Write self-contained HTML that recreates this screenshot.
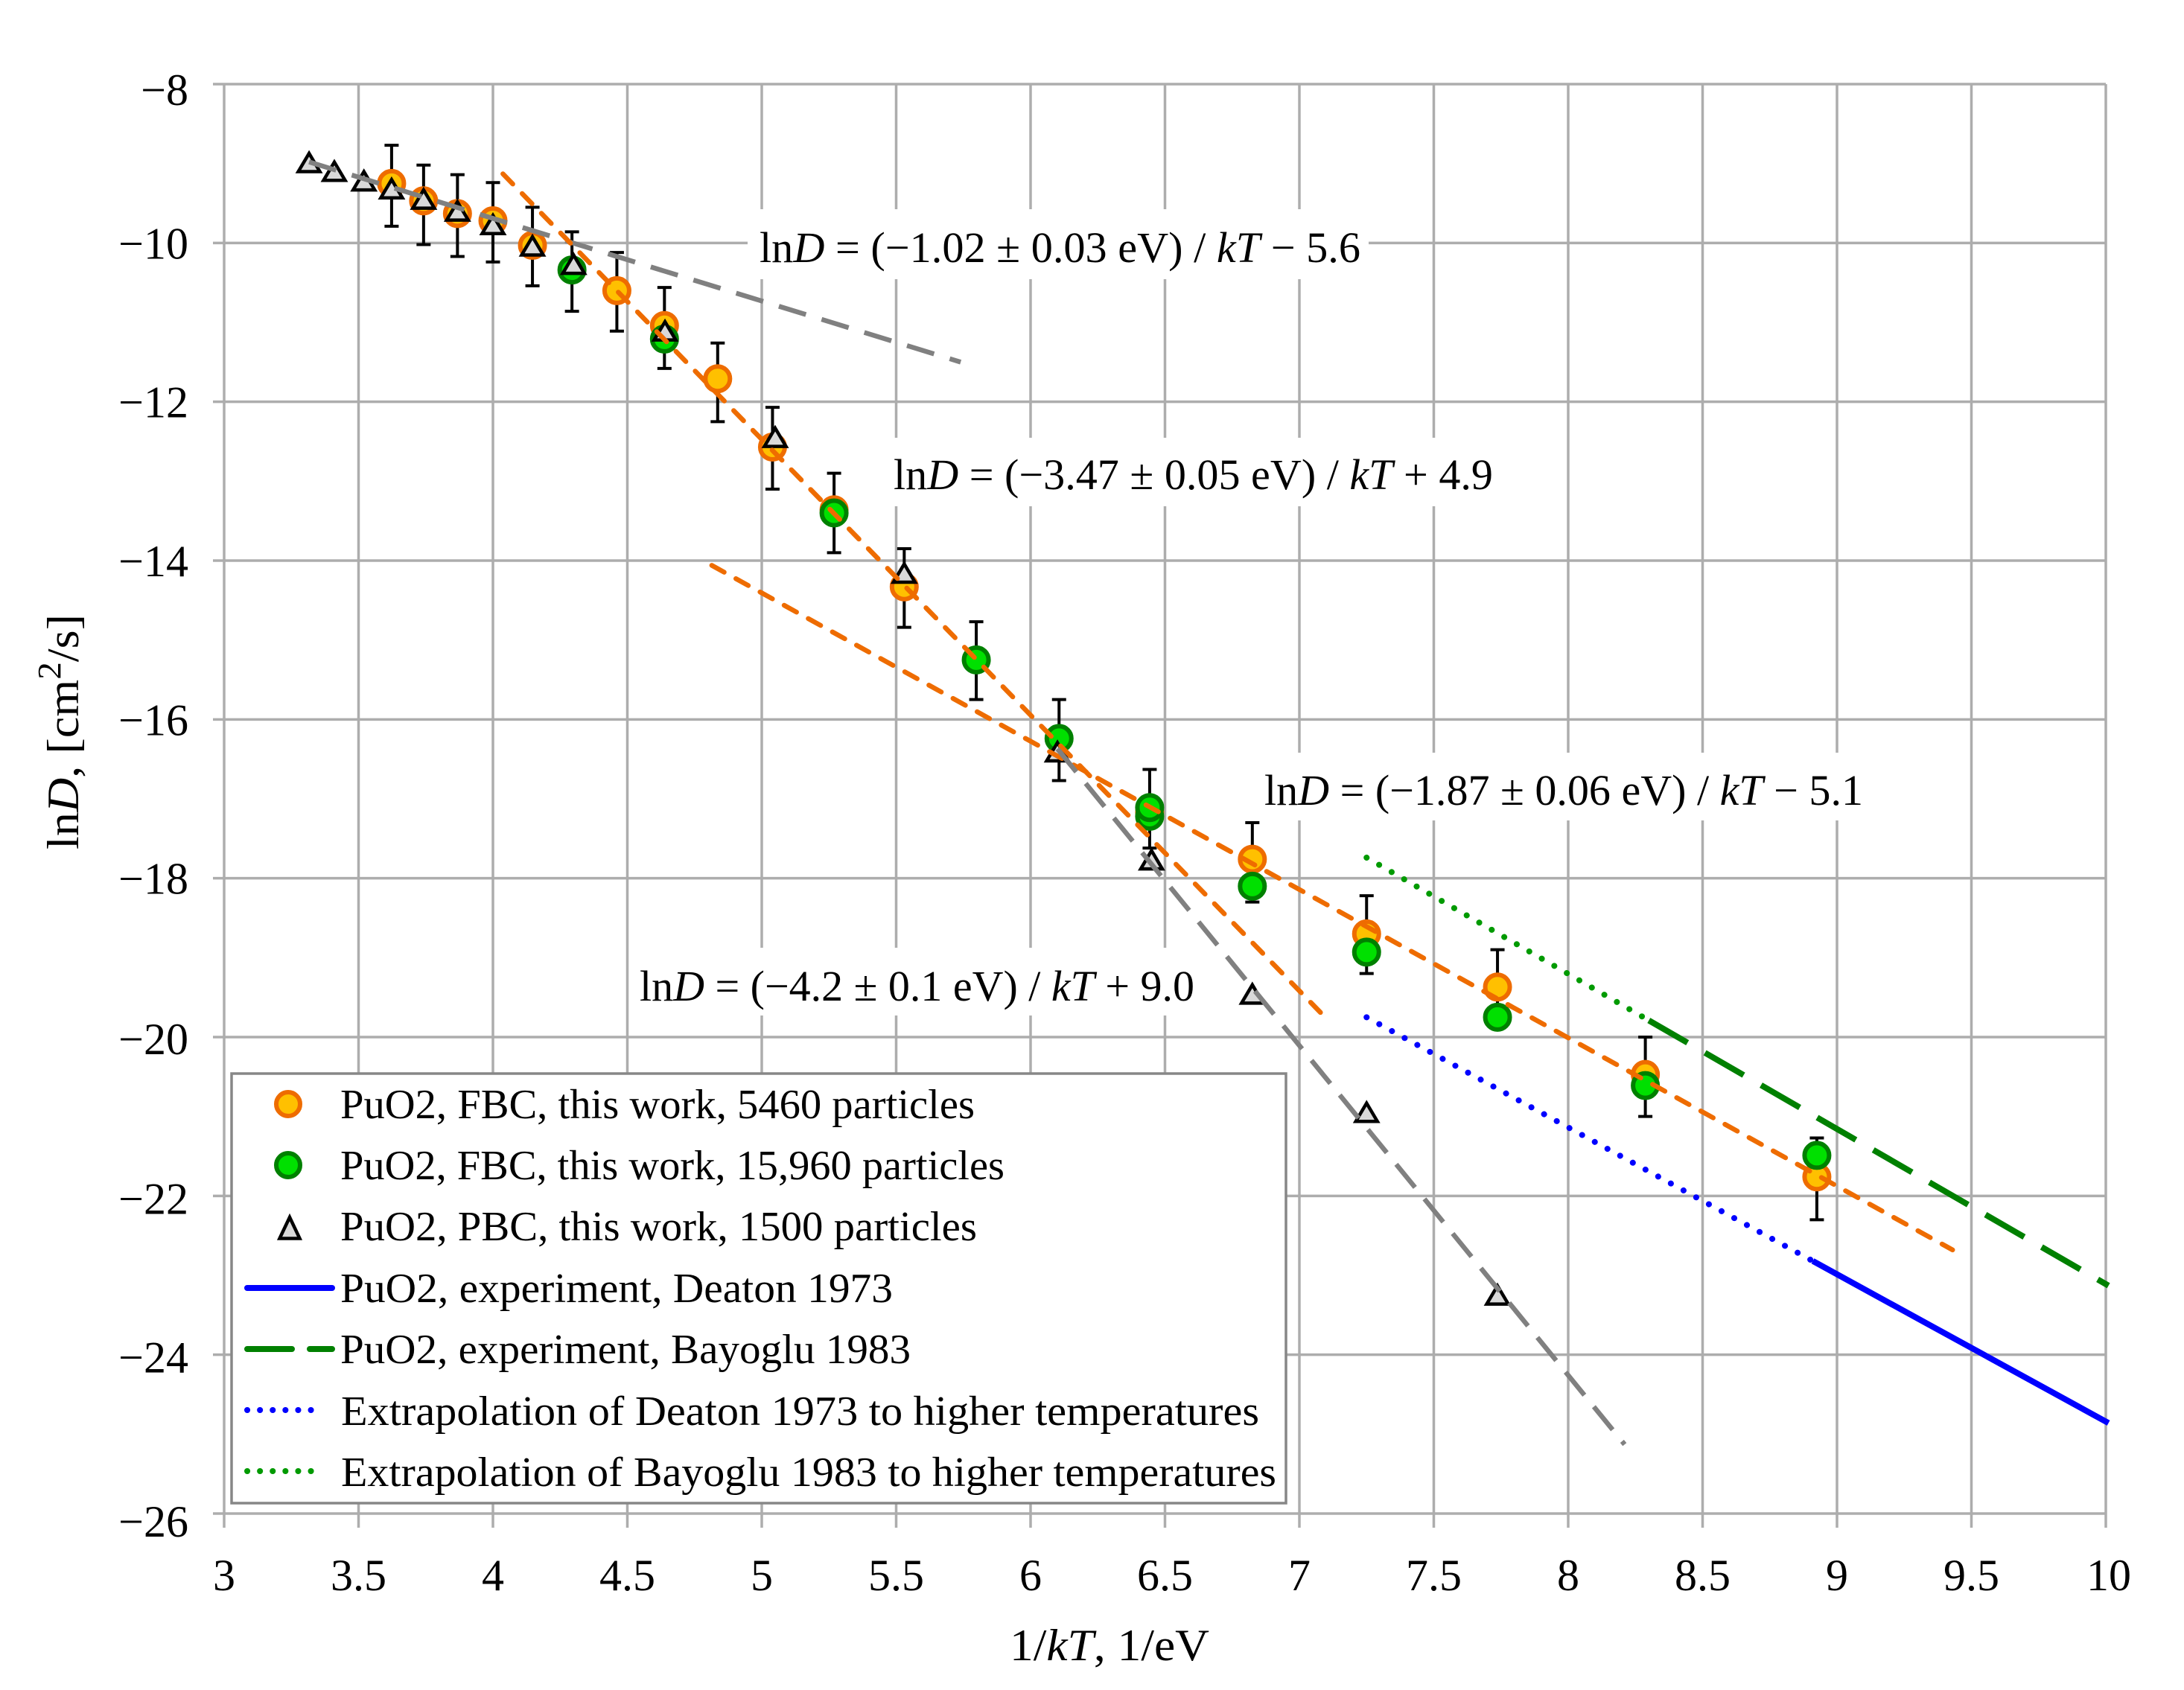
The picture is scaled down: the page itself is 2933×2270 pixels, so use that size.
<!DOCTYPE html>
<html lang="en">
<head>
<meta charset="utf-8">
<title>lnD versus 1/kT for PuO2</title>
<style>
html,body{margin:0;padding:0;background:#fff;width:2933px;height:2270px;overflow:hidden}
svg{display:block}
text{font-family:"Liberation Serif",serif;fill:#000}
</style>
</head>
<body>
<svg id="chart" xmlns="http://www.w3.org/2000/svg" width="2933" height="2270" viewBox="0 0 2933 2270">
  <g id="grid"></g>
  <g id="tick-labels"></g>
  <g id="note-boxes">
    <rect x="1004" y="281" width="834" height="94" fill="#fff"/>
    <rect x="1186" y="588" width="830" height="92" fill="#fff"/>
    <rect x="1690" y="1011" width="824" height="91" fill="#fff"/>
    <rect x="846" y="1273" width="770" height="91" fill="#fff"/>
  </g>
  <g id="errors"></g>
  <g id="marks-orange"></g>
  <g id="marks-green"></g>
  <g id="marks-tri"></g>
  <g id="lines"></g>

  <text x="1020" y="352" font-size="58" textLength="807" lengthAdjust="spacingAndGlyphs">ln<tspan font-style="italic">D</tspan> = (−1.02 ± 0.03 eV) / <tspan font-style="italic">kT</tspan> − 5.6</text>
  <text x="1200" y="657" font-size="58" textLength="805" lengthAdjust="spacingAndGlyphs">ln<tspan font-style="italic">D</tspan> = (−3.47 ± 0.05 eV) / <tspan font-style="italic">kT</tspan> + 4.9</text>
  <text x="1698" y="1081" font-size="58" textLength="804" lengthAdjust="spacingAndGlyphs">ln<tspan font-style="italic">D</tspan> = (−1.87 ± 0.06 eV) / <tspan font-style="italic">kT</tspan> − 5.1</text>
  <text x="859" y="1344" font-size="58" textLength="745" lengthAdjust="spacingAndGlyphs">ln<tspan font-style="italic">D</tspan> = (−4.2 ± 0.1 eV) / <tspan font-style="italic">kT</tspan> + 9.0</text>

  <text x="1356" y="2230" font-size="60" textLength="268" lengthAdjust="spacingAndGlyphs">1/<tspan font-style="italic">kT</tspan>, 1/eV</text>
  <text transform="translate(105,1141) rotate(-90)" font-size="60" textLength="316" lengthAdjust="spacingAndGlyphs">ln<tspan font-style="italic">D</tspan>, [cm<tspan font-size="44" dy="-24">2</tspan><tspan dy="24">/s]</tspan></text>

  <g>
    <rect x="311" y="1442" width="1416" height="577" fill="#fff" stroke="#878787" stroke-width="3.5"/>
    <circle cx="387" cy="1483" r="16" fill="#ffc000" stroke="#ee6c00" stroke-width="6"/>
    <circle cx="387" cy="1565" r="16" fill="#00e000" stroke="#008000" stroke-width="6"/>
    <polygon points="389,1635 402.5,1663.5 375.5,1663.5" fill="#d9d9d9" stroke="#000" stroke-width="4.5"/>
    <line x1="332" y1="1730" x2="446" y2="1730" stroke="#0000ff" stroke-width="8" stroke-linecap="round"/>
    <line x1="332" y1="1812" x2="446" y2="1812" stroke="#008000" stroke-width="8" stroke-linecap="round" stroke-dasharray="60 24"/>
    <line x1="332" y1="1894" x2="434" y2="1894" stroke="#0000ff" stroke-width="8" stroke-linecap="round" stroke-dasharray="0.1 17"/>
    <line x1="332" y1="1976" x2="434" y2="1976" stroke="#009a00" stroke-width="8" stroke-linecap="round" stroke-dasharray="0.1 17"/>
    <text x="457" y="1502" font-size="56" textLength="852" lengthAdjust="spacingAndGlyphs">PuO2, FBC, this work, 5460 particles</text>
    <text x="457" y="1584" font-size="56" textLength="892" lengthAdjust="spacingAndGlyphs">PuO2, FBC, this work, 15,960 particles</text>
    <text x="457" y="1666" font-size="56" textLength="855" lengthAdjust="spacingAndGlyphs">PuO2, PBC, this work, 1500 particles</text>
    <text x="457" y="1749" font-size="56" textLength="742" lengthAdjust="spacingAndGlyphs">PuO2, experiment, Deaton 1973</text>
    <text x="457" y="1831" font-size="56" textLength="766" lengthAdjust="spacingAndGlyphs">PuO2, experiment, Bayoglu 1983</text>
    <text x="458" y="1914" font-size="56" textLength="1233" lengthAdjust="spacingAndGlyphs">Extrapolation of Deaton 1973 to higher temperatures</text>
    <text x="458" y="1996" font-size="56" textLength="1256" lengthAdjust="spacingAndGlyphs">Extrapolation of Bayoglu 1983 to higher temperatures</text>
  </g>
</svg>
<script>
// Tick values
const xTicks = [3, 3.5, 4, 4.5, 5, 5.5, 6, 6.5, 7, 7.5, 8, 8.5, 9, 9.5, 10];
const yTicks = [-8, -10, -12, -14, -16, -18, -20, -22, -24, -26];

// FBC, 5460 particles
const orangeX = [3.623, 3.742, 3.868, 4.0, 4.147, 4.461, 4.638, 4.836, 5.04, 5.269, 5.53, 6.443, 6.825, 7.25, 7.737, 8.287, 8.925];
const orangeY = [-9.25, -9.47, -9.63, -9.72, -10.03, -10.6, -11.04, -11.71, -12.57, -13.36, -14.33, -17.17, -17.76, -18.7, -19.37, -20.47, -21.76];

// FBC, 15,960 particles
const greenX = [4.294, 4.638, 5.269, 5.798, 6.106, 6.443, 6.443, 6.825, 7.25, 7.737, 8.287, 8.925];
const greenY = [-10.34, -11.21, -13.4, -15.25, -16.24, -17.22, -17.11, -18.1, -18.93, -19.75, -20.61, -21.49];

// PBC, 1500 particles
const triX = [3.316, 3.41, 3.52, 3.623, 3.742, 3.868, 4.0, 4.147, 4.3, 4.64, 5.05, 5.53, 6.1, 6.45, 6.825, 7.25, 7.737];
const triY = [-8.98, -9.09, -9.21, -9.31, -9.44, -9.59, -9.76, -10.03, -10.26, -11.1, -12.44, -14.15, -16.4, -17.76, -19.45, -20.94, -23.24];

// Error bars
const errX = [3.623, 3.742, 3.868, 4.0, 4.147, 4.294, 4.461, 4.638, 4.836, 5.04, 5.269, 5.53, 5.798, 6.106, 6.443, 6.825, 7.25, 7.737, 8.287, 8.925];
const errHigh = [-8.77, -9.02, -9.14, -9.24, -9.55, -9.86, -10.12, -10.56, -11.26, -12.07, -12.9, -13.85, -14.77, -15.75, -16.63, -17.3, -18.22, -18.9, -20.0, -21.27];
const errLow = [-9.79, -10.02, -10.17, -10.24, -10.54, -10.86, -11.11, -11.58, -12.25, -13.1, -13.9, -14.84, -15.75, -16.77, -17.62, -18.3, -19.2, -19.75, -21.0, -22.3];

// Lines
const fitHighX = [3.316, 5.74];
const fitHighY = [-8.98, -11.5];
const fitMidX = [4.037, 7.09];
const fitMidY = [-9.13, -19.73];
const fitLowX = [4.814, 9.43];
const fitLowY = [-14.06, -22.68];
const fitPbcX = [6.1, 8.21];
const fitPbcY = [-16.37, -25.13];
const deatonExtraX = [7.25, 8.91];
const deatonExtraY = [-19.75, -22.82];
const deatonX = [8.91, 10.01];
const deatonY = [-22.82, -24.86];
const bayogluExtraX = [7.25, 8.3];
const bayogluExtraY = [-17.74, -19.79];
const bayogluX = [8.3, 10.01];
const bayogluY = [-19.79, -23.13];

const NS = 'http://www.w3.org/2000/svg';
function sx(v) { return 301 + (v - 3) * (2828 - 301) / 7; }
function sy(v) { return 113 + (-8 - v) * (2033 - 113) / 18; }
function make(tag, parentId, attrs) {
  const el = document.createElementNS(NS, tag);
  for (const k in attrs) el.setAttribute(k, attrs[k]);
  document.getElementById(parentId).appendChild(el);
  return el;
}
function yLabelOffset(t) {
  if (t === -8) return 28;
  if (t === -26) return 31;
  if (t <= -22) return 24;
  if (t === -20) return 23;
  return 21;
}

xTicks.forEach(function (t) {
  const el = make('line', 'grid', { x1: sx(t), x2: sx(t), y1: sy(-8), y2: sy(-26) + 19, stroke: '#adadad', 'stroke-width': 3.5 });
  
  
  const lab = make('text', 'tick-labels', { x: sx(t) + (t === 10 ? 4 : 0), y: 2136, 'font-size': 60, 'text-anchor': 'middle' });
  lab.textContent = String(t);
  
  
});

yTicks.forEach(function (t) {
  const el = make('line', 'grid', { x1: sx(3) - 15, x2: sx(10), y1: sy(t), y2: sy(t), stroke: '#adadad', 'stroke-width': 3.5 });
  
  
  const lab = make('text', 'tick-labels', { x: 253, y: sy(t) + yLabelOffset(t), 'font-size': 60, 'text-anchor': 'end' });
  lab.textContent = '\u2212' + Math.abs(t);
  
  
});

errX.forEach(function (x, i) {
  const px = sx(x);
  const stem = make('line', 'errors', { x1: px, x2: px, y1: sy(errHigh[i]), y2: sy(errLow[i]), stroke: '#000', 'stroke-width': 4 });
  
  
  const top = make('line', 'errors', { x1: px - 9.5, x2: px + 9.5, y1: sy(errHigh[i]), y2: sy(errHigh[i]), stroke: '#000', 'stroke-width': 4 });
  
  
  const bottom = make('line', 'errors', { x1: px - 9.5, x2: px + 9.5, y1: sy(errLow[i]), y2: sy(errLow[i]), stroke: '#000', 'stroke-width': 4 });
  
  
});

orangeX.forEach(function (x, i) {
  const c = make('circle', 'marks-orange', { cx: sx(x), cy: sy(orangeY[i]), r: 16.5, fill: '#ffc000', stroke: '#ee6c00', 'stroke-width': 6 });
  
  
});

greenX.forEach(function (x, i) {
  const c = make('circle', 'marks-green', { cx: sx(x), cy: sy(greenY[i]), r: 16.5, fill: '#00e000', stroke: '#008000', 'stroke-width': 6 });
  
  
});

triX.forEach(function (x, i) {
  const px = sx(x), py = sy(triY[i]);
  const pts = px + ',' + (py - 11.5) + ' ' + (px + 14.5) + ',' + (py + 13) + ' ' + (px - 14.5) + ',' + (py + 13);
  const t = make('polygon', 'marks-tri', { points: pts, fill: '#d9d9d9', stroke: '#000', 'stroke-width': 4.5 });
  
  
});

function drawLine(xs, ys, stroke, width, dash, cap) {
  const el = make('line', 'lines', { x1: sx(xs[0]), y1: sy(ys[0]), x2: sx(xs[1]), y2: sy(ys[1]), stroke: stroke, 'stroke-width': width, 'stroke-dasharray': dash, 'stroke-linecap': cap });
  return el;
}

const l1 = drawLine(fitHighX, fitHighY, '#808080', 6.5, '38 22', 'butt');


const l2 = drawLine(fitMidX, fitMidY, '#ee6c00', 6.5, '19 18', 'round');


const l3 = drawLine(fitLowX, fitLowY, '#ee6c00', 6.5, '19 18', 'round');


const l4 = drawLine(fitPbcX, fitPbcY, '#808080', 6.5, '40 20', 'butt');


const l5 = drawLine(deatonExtraX, deatonExtraY, '#0000ff', 8, '0.1 19.3', 'round');


const l6 = drawLine(deatonX, deatonY, '#0000ff', 8, 'none', 'butt');


const l7 = drawLine(bayogluExtraX, bayogluExtraY, '#009a00', 8, '0.1 19.3', 'round');


const l8 = drawLine(bayogluX, bayogluY, '#008000', 8, '60 27', 'butt');


</script>
</body>
</html>
